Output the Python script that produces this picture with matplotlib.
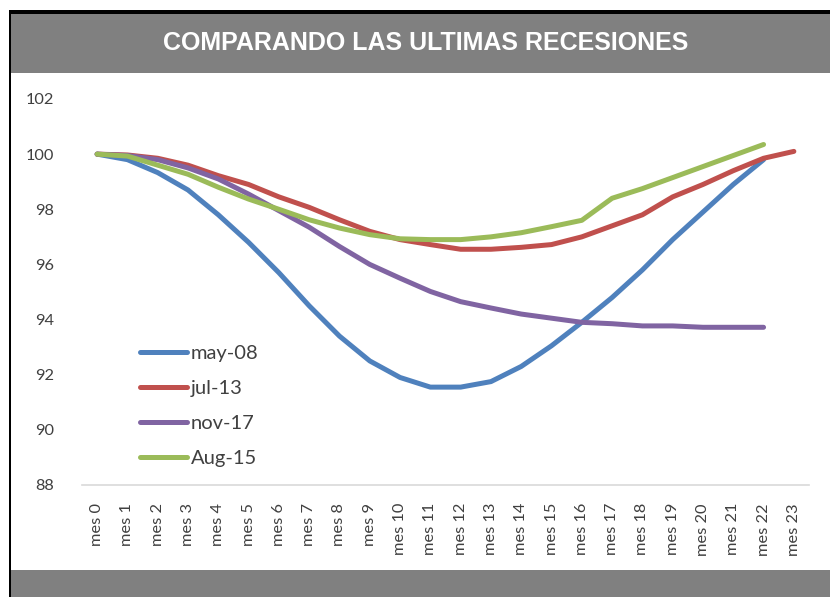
import matplotlib
matplotlib.use("Agg")
import matplotlib.pyplot as plt
from matplotlib.patches import Rectangle

categories = [f"mes {i}" for i in range(24)]

may08 = [100.0, 99.8, 99.33, 98.7, 97.8, 96.8, 95.7, 94.5, 93.4, 92.5, 91.9, 91.55,
         91.55, 91.75, 92.3, 93.05, 93.9, 94.8, 95.8, 96.9, 97.9, 98.9, 99.8]
jul13 = [100.0, 99.97, 99.85, 99.6, 99.22, 98.9, 98.45, 98.07, 97.62, 97.2, 96.9, 96.72,
         96.55, 96.55, 96.62, 96.72, 97.0, 97.4, 97.8, 98.45, 98.9, 99.4, 99.85, 100.1]
nov17 = [100.0, 99.95, 99.8, 99.5, 99.1, 98.55, 97.95, 97.35, 96.65, 96.0, 95.5, 95.02,
         94.65, 94.42, 94.2, 94.05, 93.9, 93.85, 93.77, 93.77, 93.72, 93.72, 93.72]
aug15 = [100.0, 99.93, 99.6, 99.27, 98.8, 98.37, 98.0, 97.62, 97.32, 97.08, 96.93, 96.9,
         96.9, 97.0, 97.15, 97.37, 97.6, 98.4, 98.75, 99.15, 99.55, 99.95, 100.35]

series_names = ["may-08", "jul-13", "nov-17", "Aug-15"]
series_values = [may08, jul13, nov17, aug15]
colors = ["#4F81BD", "#C0504D", "#8064A2", "#9BBB59"]

W, H = 830, 597
fig = plt.figure(figsize=(W / 100, H / 100), dpi=100)
fig.patch.set_facecolor("white")

def px_rect(x0, y0, x1, y1, color):
    fig.patches.append(Rectangle((x0 / W, 1 - y1 / H), (x1 - x0) / W, (y1 - y0) / H,
                                 transform=fig.transFigure, facecolor=color,
                                 edgecolor="none", zorder=0))

px_rect(9, 10, W, 14, "black")
px_rect(9, 10, 11, H, "black")
px_rect(11, 14, W, 73, "#808080")
px_rect(11, 570, W, H, "#808080")

fig.text(426 / W, 1 - 43 / H, "COMPARANDO LAS ULTIMAS RECESIONES", color="white",
         fontsize=18, fontweight="bold", family="Liberation Sans",
         ha="center", va="center")

ax = fig.add_axes([82 / W, 1 - 485 / H, (809 - 82) / W, (485 - 99) / H])
ax.set_facecolor("none")
x = list(range(len(categories)))
for name, vals, c in zip(series_names, series_values, colors):
    ax.plot(x[:len(vals)], vals, color=c, linewidth=3.6, label=name,
            solid_capstyle="round", solid_joinstyle="round")

ax.set_xlim(-0.5, 23.5)
ax.set_ylim(88, 102)
ax.set_yticks(range(88, 103, 2))
ax.set_xticks(x)
ax.set_xticklabels(categories, rotation=90, fontsize=11.8, color="#404040", family="Lato")
for lbl in ax.get_yticklabels():
    lbl.set_fontsize(11.8)
    lbl.set_color("#404040")
    lbl.set_family("Lato")
ax.tick_params(axis="both", length=0)
ax.tick_params(axis="y", pad=20)
ax.tick_params(axis="x", pad=13)
for s in ["top", "right", "left"]:
    ax.spines[s].set_visible(False)
ax.spines["bottom"].set_color("#D9D9D9")
ax.spines["bottom"].set_linewidth(1.2)

leg = ax.legend(loc="lower left", bbox_to_anchor=(0.055, 0.0), frameon=False,
                prop={"family": "Lato", "size": 14.5}, handlelength=2.35,
                handletextpad=0.15, labelspacing=0.88)
for t in leg.get_texts():
    t.set_color("#404040")

fig.savefig("out.png", dpi=100)
